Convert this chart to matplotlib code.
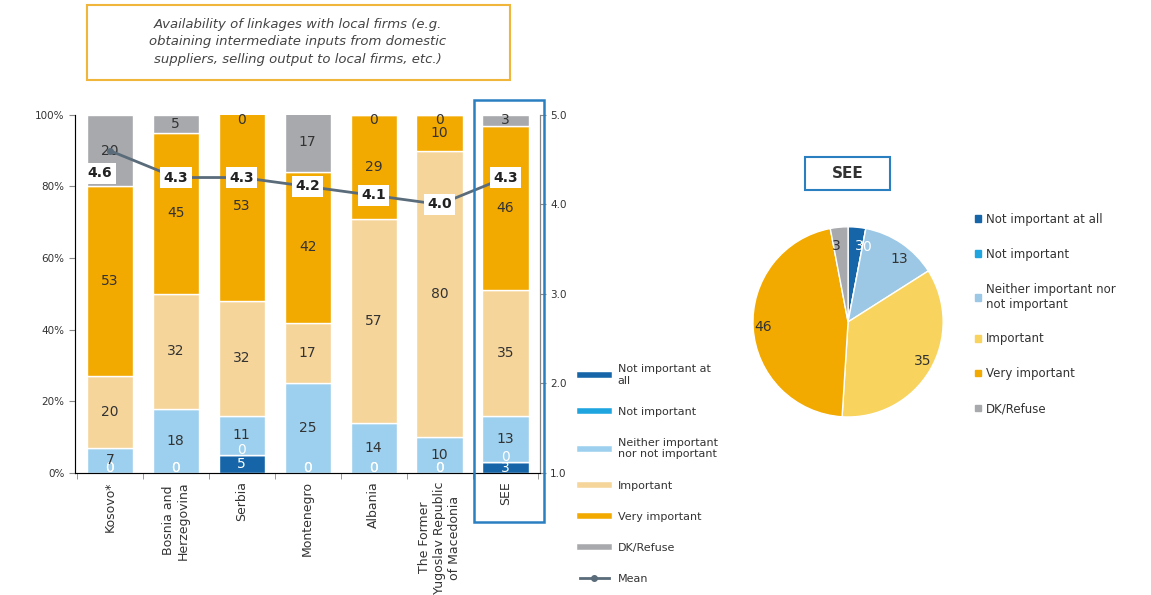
import matplotlib
matplotlib.use('Agg')
import matplotlib.pyplot as plt
import matplotlib.patches as patches
from matplotlib.lines import Line2D
import numpy as np

# data
countries = ['Kosovo*', 'Bosnia and\nHerzegovina', 'Serbia', 'Montenegro', 'Albania',
             'The Former\nYugoslav Republic\nof Macedonia', 'SEE']
categories = ['Not important at\nall', 'Not important', 'Neither important\nnor not important',
              'Important', 'Very important', 'DK/Refuse']
not_at_all = [0, 0, 5, 0, 0, 0, 3]
not_important = [0, 0, 0, 0, 0, 0, 0]
neither = [7, 18, 11, 25, 14, 10, 13]
important = [20, 32, 32, 17, 57, 80, 35]
very_important = [53, 45, 53, 42, 29, 10, 46]
dk_refuse = [20, 5, 0, 17, 0, 0, 3]
mean_score = [4.6, 4.3, 4.3, 4.2, 4.1, 4.0, 4.3]

pie_labels = ['Not important at all', 'Not important', 'Neither important nor\nnot important',
              'Important', 'Very important', 'DK/Refuse']
pie_values = [3, 0, 13, 35, 46, 3]

bar_colors = ['#1565a8', '#1ea5e0', '#9dd0ee', '#f6d59b', '#f2a900', '#a7a9ac']
pie_colors = ['#1565a8', '#1ea5e0', '#9cc8e6', '#f8d45e', '#f2a900', '#a7a9ac']
mean_color = '#5a6b7a'
text_color = '#333333'

plt.rcParams['font.family'] = ['DejaVu Sans']

fig = plt.figure(figsize=(11.51, 5.95), dpi=100)

# ---- stacked bar chart ----
ax = fig.add_axes([0.065, 0.205, 0.404, 0.602])
series = [not_at_all, not_important, neither, important, very_important, dk_refuse]
x = np.arange(len(countries))
bottom = np.zeros(len(countries))
for i, vals in enumerate(series):
    vals = np.array(vals, dtype=float)
    ax.bar(x, vals, bottom=bottom, width=0.7, color=bar_colors[i],
           edgecolor='white', linewidth=1, label=categories[i])
    for xi, v, b in zip(x, vals, bottom):
        if v > 0:
            col = 'white' if i == 0 else text_color
            ax.text(xi, b + v / 2, '%d' % v, ha='center', va='center', fontsize=10, color=col)
        elif i < 2:
            ax.text(xi, b - 0.5, '0', ha='center', va='bottom', fontsize=10, color='white')
        elif i == 5:
            ax.text(xi, 100.5, '0', ha='center', va='top', fontsize=10, color=text_color)
    bottom += vals

ax.set_xlim(-0.53, 6.52)
ax.set_ylim(0, 100)
ax.set_yticks(range(0, 101, 20))
ax.set_yticklabels(['%d%%' % v for v in range(0, 101, 20)], fontsize=7.5, color=text_color)
ax.set_xticks(x)
ax.set_xticklabels(countries, rotation=90, fontsize=9, color=text_color, va='top', ha='center')
ax.tick_params(axis='x', length=0, pad=6)
ax.set_xticks(np.arange(-0.5, len(countries), 1), minor=True)
ax.tick_params(axis='x', which='minor', length=4, color='#888888')
ax.tick_params(axis='y', length=4, color='#888888')
for s in ['left', 'bottom', 'right']:
    ax.spines[s].set_color('#888888')
ax.spines['top'].set_visible(False)

ax2 = ax.twinx()
ax2.plot(x, mean_score, color=mean_color, lw=2, marker='o', markersize=4, zorder=3)
ax2.set_ylim(1, 5)
ax2.set_yticks([1, 2, 3, 4, 5])
ax2.set_yticklabels(['%.1f' % v for v in [1, 2, 3, 4, 5]], fontsize=7.5, color=text_color)
ax2.tick_params(axis='y', length=4, color='#888888')
ax2.spines['top'].set_visible(False)
ax2.spines['right'].set_color('#888888')
for xi, m in zip(x, mean_score):
    dx, dy = (-0.15, -0.25) if xi == 0 else (0, 0)
    ax2.text(xi + dx, m + dy, '%.1f' % m, ha='center', va='center', fontsize=10,
             color='#222222', fontweight='bold', zorder=4,
             bbox=dict(boxstyle='square,pad=0.25', fc='white', ec='none'))

# highlight SEE column
fig.patches.append(patches.Rectangle((474 / 1151, 1 - 522 / 595), 70 / 1151, 422 / 595,
                                     transform=fig.transFigure, fill=False,
                                     ec='#2a7fc1', lw=1.8))

# title box
fig.patches.append(patches.Rectangle((87 / 1151, 1 - 80 / 595), 423 / 1151, 75 / 595,
                                     transform=fig.transFigure, fill=False,
                                     ec='#f0b63c', lw=1.5))
fig.text(298 / 1151, 1 - 42 / 595,
         'Availability of linkages with local firms (e.g.\n'
         'obtaining intermediate inputs from domestic\n'
         'suppliers, selling output to local firms, etc.)',
         ha='center', va='center', style='italic', fontsize=9.5, color='#444444',
         linespacing=1.45)

# bar legend
handles = [Line2D([], [], color=c, lw=4) for c in bar_colors]
handles.append(Line2D([], [], color=mean_color, lw=2, marker='o', markersize=4))
fig.legend(handles, categories + ['Mean'], loc='upper left',
           bbox_to_anchor=(0.495, 0.405), frameon=False, fontsize=8,
           labelspacing=1.9, handlelength=2.6, labelcolor=text_color)

# ---- pie chart ----
ax3 = fig.add_axes([0.6525, 0.296, 0.1686, 0.326])
wedges, texts = ax3.pie(pie_values, colors=pie_colors, startangle=90, counterclock=False,
                        labels=[str(v) for v in pie_values], labeldistance=0.8,
                        wedgeprops=dict(edgecolor='white', linewidth=1),
                        textprops=dict(fontsize=10, color=text_color))
texts[0].set_color('white')
texts[1].set_color('white')
ax3.set_xlim(-1.02, 1.02)
ax3.set_ylim(-1.02, 1.02)
ax3.set_aspect('equal')

fig.patches.append(patches.Rectangle((805 / 1151, 1 - 190 / 595), 85 / 1151, 33 / 595,
                                     transform=fig.transFigure, fill=False,
                                     ec='#2a7fc1', lw=1.5))
fig.text(847.5 / 1151, 1 - 173.5 / 595, 'SEE', ha='center', va='center',
         fontsize=11, fontweight='bold', color='#333333')

pie_handles = [patches.Patch(color=c) for c in pie_colors]
fig.legend(pie_handles, pie_labels, loc='upper left', bbox_to_anchor=(0.838, 0.66),
           frameon=False, fontsize=8.5, labelspacing=1.85, handlelength=0.5,
           handleheight=0.5, handletextpad=0.4, labelcolor=text_color)

plt.savefig('out.png', dpi=100)
